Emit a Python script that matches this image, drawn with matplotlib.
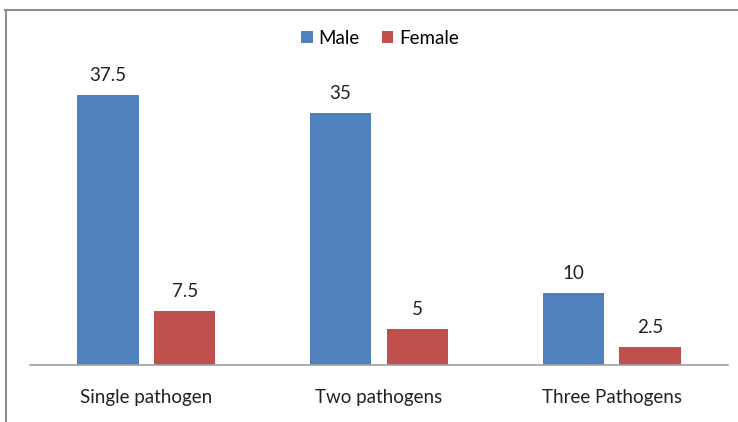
import matplotlib.pyplot as plt
import numpy as np
from matplotlib.lines import Line2D

categories = ["Single pathogen", "Two pathogens", "Three Pathogens"]
male = [37.5, 35, 10]
female = [7.5, 5, 2.5]
male_labels = ["37.5", "35", "10"]
female_labels = ["7.5", "5", "2.5"]

plt.rcParams['font.family'] = ['Lato', 'DejaVu Sans']

W, H = 738, 422
fig = plt.figure(figsize=(W / 100, H / 100), dpi=100)
ax = fig.add_axes([30 / W, (H - 365) / H, 698 / W, 305 / H])

x = np.arange(len(categories))
bw = 0.263
off = 0.165
blue = "#4f81bd"
red = "#c0504d"
b1 = ax.bar(x - off, male, bw, color=blue, label="Male")
b2 = ax.bar(x + off, female, bw, color=red, label="Female")
ax.bar_label(b1, labels=male_labels, padding=8, fontsize=13.5, color="#222222")
ax.bar_label(b2, labels=female_labels, padding=8, fontsize=13.5, color="#222222")

ax.set_xlim(-0.5, 2.5)
ax.set_ylim(0, 305 / 7.2)
ax.set_xticks(x)
ax.set_xticklabels(categories, fontsize=13.5, color="#222222")
ax.tick_params(axis="x", length=0, pad=17)
ax.set_yticks([])
for s in ["top", "right", "left"]:
    ax.spines[s].set_visible(False)
ax.spines["bottom"].set_color("#a0a0a0")
ax.spines["bottom"].set_linewidth(1.2)

fig.legend(handles=[b1, b2], loc="center", bbox_to_anchor=(0.515, 1 - 38 / H),
           ncol=2, frameon=False, fontsize=13.5, handlelength=0.6, handleheight=0.6,
           handletextpad=0.3, columnspacing=1.2)

# outer chart frame (top and left edges visible)
fig.add_artist(Line2D([5 / W, 1], [1 - 10 / H, 1 - 10 / H], color="#8c8c8c", lw=1.5))
fig.add_artist(Line2D([6 / W, 6 / W], [0, 1 - 10 / H], color="#8c8c8c", lw=1.5))

fig.savefig("out.png", dpi=100)
